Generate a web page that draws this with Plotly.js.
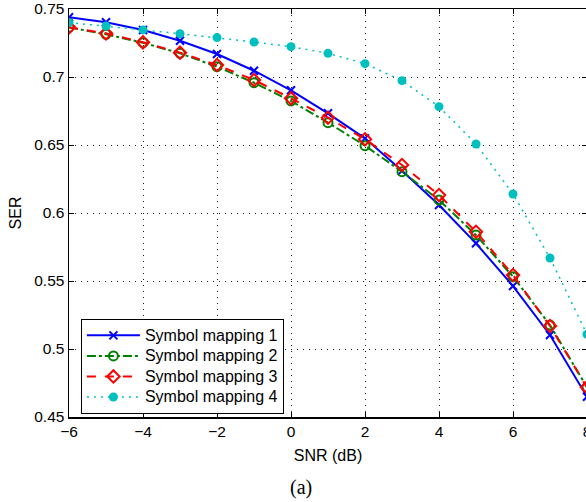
<!DOCTYPE html>
<html>
<head>
<meta charset="utf-8">
<script src="https://cdn.plot.ly/plotly-3.0.1.min.js"></script>
<style>
html,body{margin:0;padding:0;overflow:hidden;background:#fff;}
#chart{width:590px;height:502px;}
</style>
</head>
<body>
<div id="chart"></div>
<script>
const snr = [-6,-5,-4,-3,-2,-1,0,1,2,3,4,5,6,7,8];
const map1 = [0.7439,0.7402,0.7345,0.7267,0.7169,0.7046,0.6902,0.6733,0.6549,0.6310,0.6059,0.5777,0.5463,0.5103,0.4649];
const map2 = [0.7365,0.7314,0.7252,0.7174,0.7076,0.6958,0.6824,0.6664,0.6495,0.6304,0.6096,0.5838,0.5532,0.5176,0.4718];
const map3 = [0.7365,0.7321,0.7255,0.7179,0.7088,0.6978,0.6843,0.6701,0.6542,0.6353,0.6132,0.5862,0.5544,0.5169,0.4718];
const map4 = [0.7400,0.7375,0.7346,0.7318,0.7290,0.7257,0.7223,0.7174,0.7098,0.6973,0.6782,0.6507,0.6140,0.5669,0.5108];
const names = ["Symbol mapping 1","Symbol mapping 2","Symbol mapping 3","Symbol mapping 4"];
const xTickVals = [-6,-4,-2,0,2,4,6,8];
const xTickText = ['\u22126','\u22124','\u22122','0','2','4','6','8'];
const yTickVals = [0.45,0.5,0.55,0.6,0.65,0.7,0.75];
const yTickText = ['0.45','0.5','0.55','0.6','0.65','0.7','0.75'];

const big = s => '<span style="font-size:16px">' + s + '</span>';

const traces = [
  {x:snr,y:map1,name:big(names[0]),mode:'lines+markers',
   line:{color:'#0000ff',width:2,dash:'solid'},
   marker:{symbol:'x-thin-open',size:8,line:{color:'#0000ff',width:2}}},
  {x:snr,y:map2,name:big(names[1]),mode:'lines+markers',
   line:{color:'#008000',width:2,dash:'dashdot'},
   marker:{symbol:'circle-open',size:9,color:'#008000',line:{color:'#008000',width:2}}},
  {x:snr,y:map3,name:big(names[2]),mode:'lines+markers',
   line:{color:'#ff0000',width:2,dash:'dash'},
   marker:{symbol:'diamond-open',size:9.5,color:'#ff0000',line:{color:'#ff0000',width:2}}},
  {x:snr,y:map4,name:big(names[3]),mode:'lines+markers',
   line:{color:'#00bfbf',width:1.5,dash:'2px,5px'},
   marker:{symbol:'circle',size:9,color:'#00bfbf'}}
];

const fam = '"Liberation Sans", Arial, sans-serif';
const tickFont = {family:fam, size:15.5, color:'#000'};
const titleFont = {family:fam, size:16, color:'#000'};
const axisCommon = {
  ticks:'inside', ticklen:5, tickcolor:'#000', showline:true, linecolor:'#000', linewidth:1.5, mirror:'ticks',
  showgrid:true, gridcolor:'#222', griddash:'1px,5px', gridwidth:1, zeroline:false,
  tickfont:tickFont, ticklabeloverflow:'allow'
};
const layout = {
  width:590, height:502,
  margin:{l:69,r:3,t:9,b:85},
  paper_bgcolor:'#fff', plot_bgcolor:'#fff',
  font: titleFont,
  showlegend:true,
  xaxis:Object.assign({range:[-6,8], tickvals:xTickVals, ticktext:xTickText,
    title:{text:'SNR (dB)', font:titleFont, standoff:10}}, axisCommon),
  yaxis:Object.assign({range:[0.45,0.75], tickvals:yTickVals, ticktext:yTickText,
    title:{text:'SER', font:titleFont, standoff:8}}, axisCommon),
  legend:{x:0.023, y:0.24, xanchor:'left', yanchor:'top', bgcolor:'#fff', bordercolor:'#000', borderwidth:1,
    font:{family:fam, size:13.5, color:'#000'}, itemwidth:53, tracegroupgap:0},
  annotations:[{text:'(a)', xref:'paper', yref:'paper', x:0.447, y:-0.174, xanchor:'center', yanchor:'middle',
    showarrow:false, font:{family:'"Liberation Serif", "Times New Roman", serif', size:20, color:'#000'}}]
};
Plotly.newPlot('chart', traces, layout, {displayModeBar:false, staticPlot:true});
</script>
</body>
</html>
